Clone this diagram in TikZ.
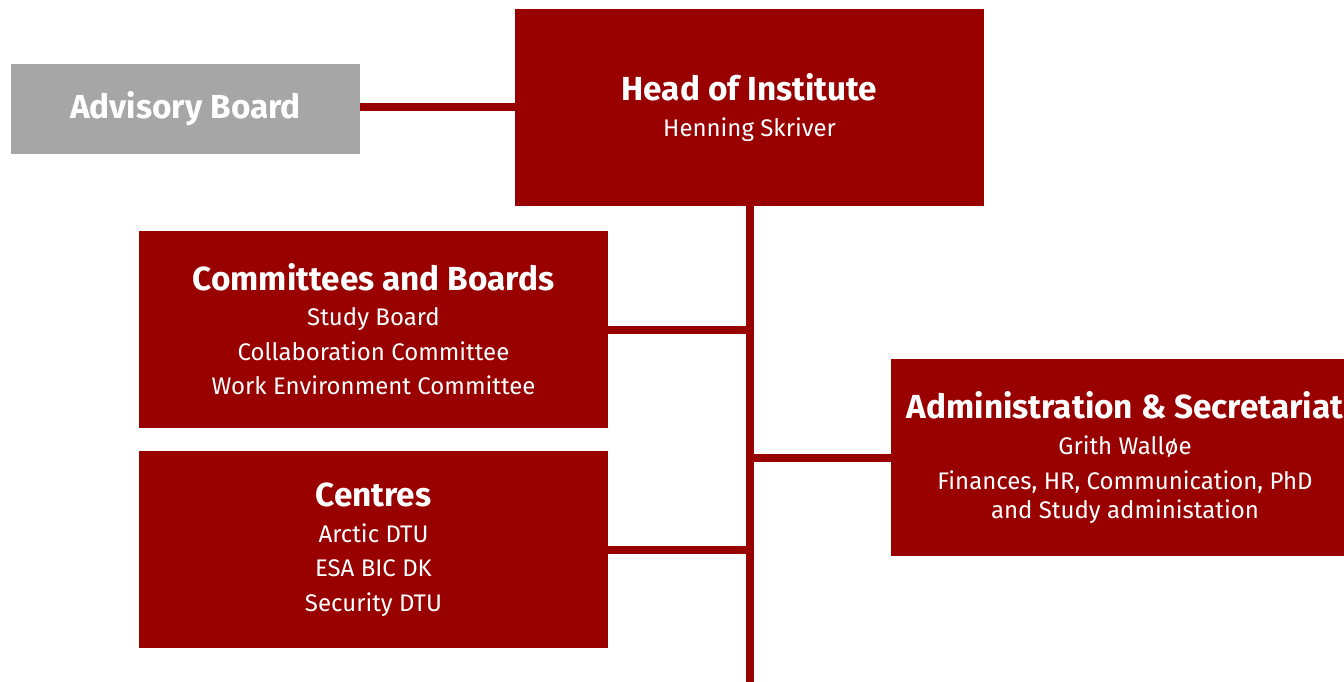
\documentclass[tikz,border=0pt]{standalone}
\usepackage{fontspec}
\setmainfont{Fira Sans}
\usepackage{tikz}
\usetikzlibrary{positioning}
\definecolor{dtured}{HTML}{990000}
\definecolor{boardgray}{HTML}{A6A6A6}

\begin{document}
\begin{tikzpicture}[x=0.75pt,y=-0.75pt,-,line width=6pt,
  main node/.style={rectangle,fill=dtured,text=white,inner sep=0pt,outer sep=0pt,
    minimum width=351.75pt,minimum height=147.75pt,align=center,
    font=\fontsize{18}{26}\selectfont},
  side node/.style={rectangle,fill=boardgray,text=white,inner sep=0pt,outer sep=0pt,
    minimum width=261.75pt,minimum height=67.5pt,
    font=\fontsize{25}{26}\selectfont\bfseries},
  link/.style={draw=dtured}]

  \clip (0,0) rectangle (1344,681);

  \node[main node] (head) at (749.5,107.5)
    {{\fontsize{25}{26}\selectfont\bfseries Head of Institute}\\[1pt]
     Henning Skriver};
  \node[side node] (advisory) at (185.5,109) {Advisory Board};
  \node[main node] (committees) at (373.5,329.5)
    {{\fontsize{25}{26}\selectfont\bfseries Committees and Boards}\\
     Study Board\\ Collaboration Committee\\ Work Environment Committee};
  \node[main node] (centres) at (373.5,549.5)
    {{\fontsize{25}{26}\selectfont\bfseries Centres}\\[1pt]
     Arctic DTU\\ ESA BIC DK\\ Security DTU};
  \node[main node] (admin) at (1125,457.5)
    {{\fontsize{25}{26}\selectfont\bfseries Administration \& Secretariat}\\[1pt]
     Grith Walløe\\ Finances, HR, Communication, PhD\\[-4.25pt]
     and Study administation};
  \coordinate (spine) at (749.5,700);

  \path[link]
    (advisory.east |- head.west) edge (head.west)
    (head.south) edge (spine)
    (committees.east) edge (committees.east -| head.south)
    (centres.east) edge (centres.east -| head.south)
    (admin.west) edge (admin.west -| head.south);
\end{tikzpicture}
\end{document}
